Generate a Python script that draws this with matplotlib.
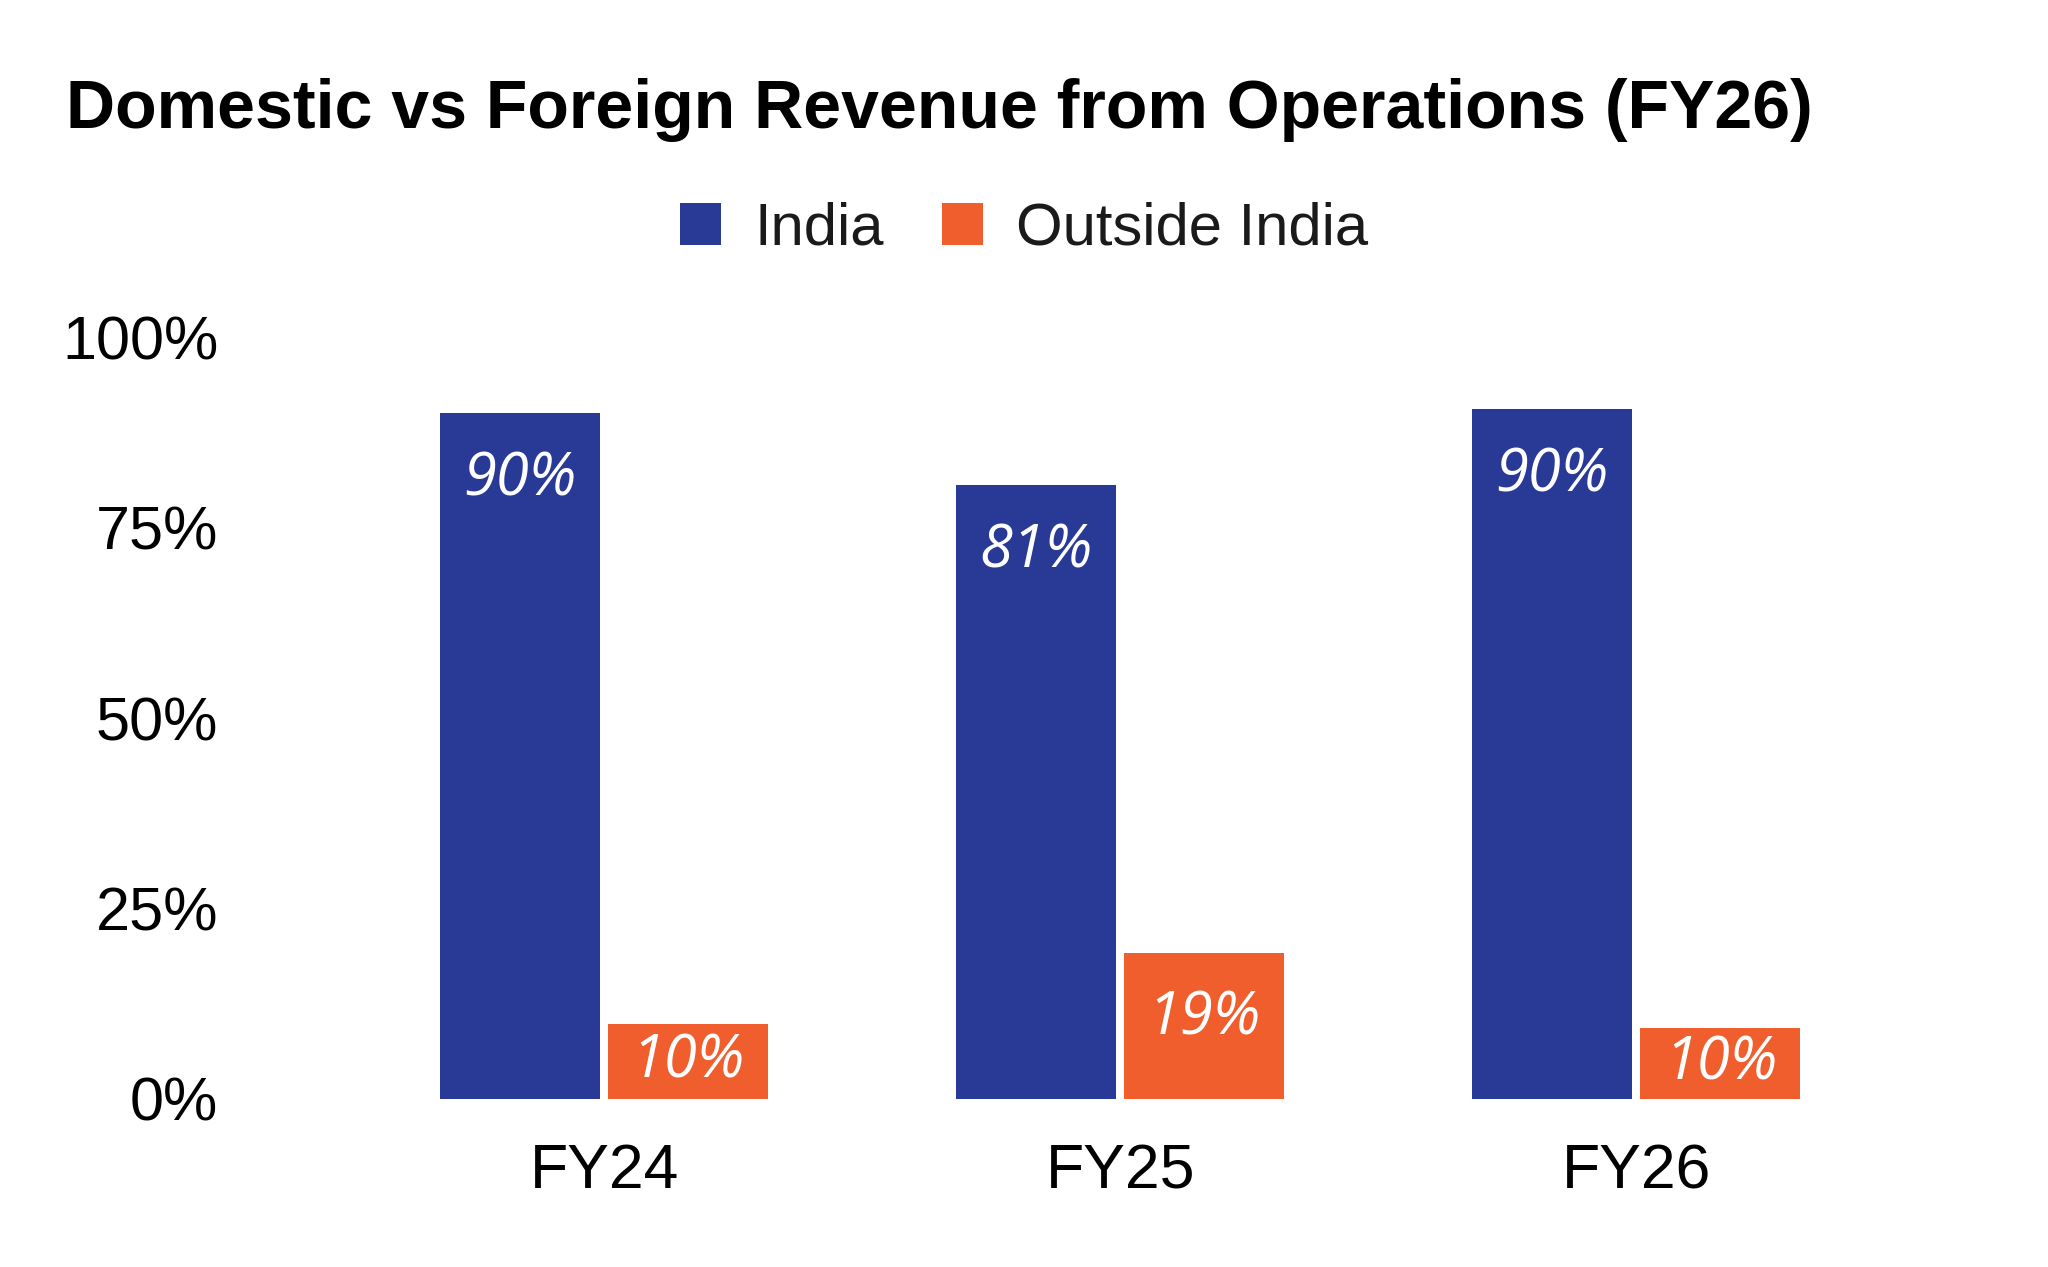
import matplotlib
matplotlib.use("Agg")
import matplotlib.pyplot as plt
from matplotlib.patches import Patch
import numpy as np

# data
years = ["FY24", "FY25", "FY26"]
india = [90.0, 80.6, 90.5]
outside = [9.8, 19.2, 9.3]
india_labels = ["90%", "81%", "90%"]
outside_labels = ["10%", "19%", "10%"]
yticks = [0, 25, 50, 75, 100]

blue = "#283a96"
orange = "#f05e2e"

plt.rcParams["font.family"] = ["Liberation Sans", "DejaVu Sans"]

fig = plt.figure(figsize=(20.48, 12.67), dpi=100)
ax = fig.add_axes([0.169, 0.1326, 0.756, 0.6014])

x = np.arange(len(years))
w = 0.31
off = 0.163
b1 = ax.bar(x - off, india, w, color=blue, label="India")
b2 = ax.bar(x + off, outside, w, color=orange, label="Outside India")

# value labels: ~65px under the bar top, centred when the bar is short
drop = 8.7
for bars, labels in ((b1, india_labels), (b2, outside_labels)):
    for rect, lab in zip(bars, labels):
        h = rect.get_height()
        ypos = max(h - drop, h / 2)
        ax.text(rect.get_x() + rect.get_width() / 2, ypos, lab,
                ha="center", va="center", color="white", fontsize=43,
                family=["Open Sans", "DejaVu Sans"], style="italic")

ax.set_xlim(-0.5, 2.5)
ax.set_ylim(0, 100)
ax.set_xticks(x)
ax.set_xticklabels(years)
ax.set_yticks(yticks)
ax.set_yticklabels([f"{t}%" for t in yticks])
ax.tick_params(axis="both", length=0, labelsize=45, colors="black")
ax.tick_params(axis="y", labelsize=44, pad=92)
ax.tick_params(axis="x", pad=31)
for s in ax.spines.values():
    s.set_visible(False)

fig.text(66 / 2048, 1 - 128 / 1267, "Domestic vs Foreign Revenue from Operations (FY26)",
         fontsize=49, fontweight="bold", ha="left", va="baseline")

handles = [Patch(facecolor=blue, label="India"),
           Patch(facecolor=orange, label="Outside India")]
fig.legend(handles=handles, loc="center", bbox_to_anchor=(0.5, 1 - 229 / 1267),
           ncol=2, frameon=False, fontsize=43, handlelength=0.7, handleheight=0.7,
           handletextpad=0.55, columnspacing=0.97, labelcolor="#1a1a1a")

fig.savefig("out.png", dpi=100, facecolor="white")
